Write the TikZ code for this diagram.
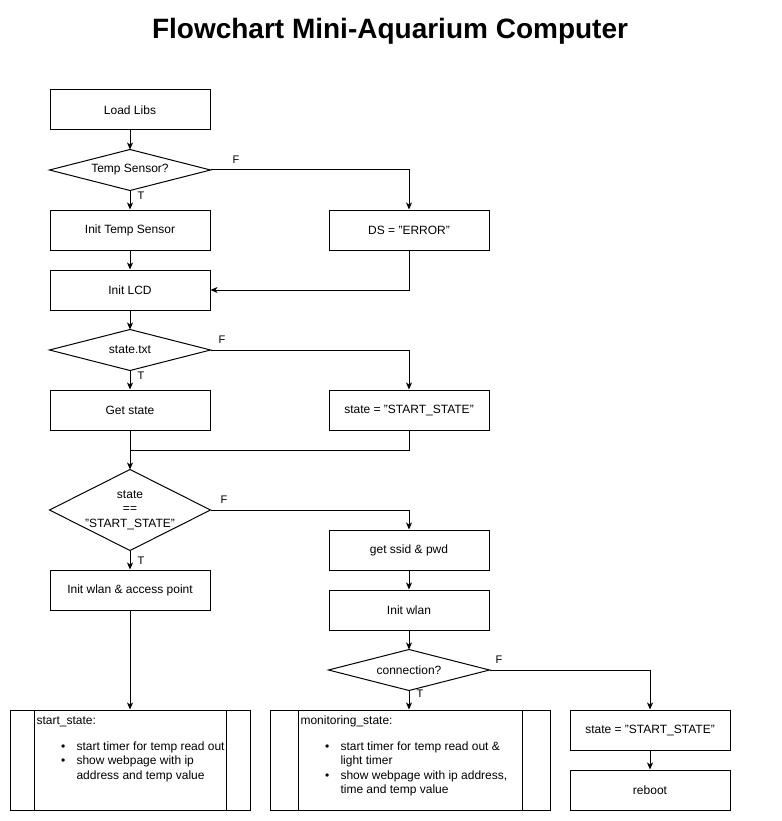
\documentclass[tikz,border=0pt]{standalone}
\usepackage{fontspec}
\setmainfont{Liberation Sans}
\usetikzlibrary{arrows.meta}
\newcommand{\fsn}{\fontsize{12}{14.5}\selectfont}
\newcommand{\fsl}{\fontsize{11}{13}\selectfont}
\begin{document}
\begin{tikzpicture}[x=1pt,y=-1pt,line width=1pt,
  box/.style={draw,minimum width=160pt,minimum height=40pt,inner sep=0pt,font=\fsn},
  dia/.style={minimum width=160pt,minimum height=40pt,inner sep=0pt,align=center,font=\fsn},
  lab/.style={font=\fsl,inner sep=0pt},
  txt/.style={font=\fsn,inner sep=0pt,anchor=base west},
  arr/.style={-{Stealth[length=7pt,width=6pt,inset=2pt]}}]
\useasboundingbox[fill=white] (0,0) rectangle (781,821);
\node[font=\fontsize{28}{33}\selectfont\bfseries] (title) at (390,31) {Flowchart Mini-Aquarium Computer};

\node[box] (load) at (130,110) {Load Libs};
\node[dia] (ts) at (130,170) {Temp Sensor?};
\draw (ts.west) -- (ts.north) -- (ts.east) -- (ts.south) -- cycle;
\node[box] (its) at (130,230) {Init Temp Sensor};
\node[box] (ds) at (409,230) {DS = "ERROR"};
\node[box] (lcd) at (130,290) {Init LCD};
\node[dia] (stx) at (130,350) {state.txt};
\draw (stx.west) -- (stx.north) -- (stx.east) -- (stx.south) -- cycle;
\node[box] (gs) at (130,410) {Get state};
\node[box] (ss1) at (409,410) {state = "START\_STATE"};
\node[dia,minimum height=80pt] (sse) at (130,510) {state\\==\\"START\_STATE"};
\draw (sse.west) -- (sse.north) -- (sse.east) -- (sse.south) -- cycle;
\node[box] (iw) at (130,590) {Init wlan \& access point};
\node[box] (gsp) at (409,550) {get ssid \& pwd};
\node[box] (iwl) at (409,610) {Init wlan};
\node[dia] (con) at (409,670) {connection?};
\draw (con.west) -- (con.north) -- (con.east) -- (con.south) -- cycle;
\node[draw,minimum width=240pt,minimum height=100pt,inner sep=0pt] (st) at (130,760) {};
\draw (34,710) -- (34,810) (226,710) -- (226,810);
\node[draw,minimum width=280pt,minimum height=100pt,inner sep=0pt] (mon) at (410,760) {};
\draw (298,710) -- (298,810) (522,710) -- (522,810);
\node[box] (ss2) at (650,730) {state = "START\_STATE"};
\node[box] (rb) at (650,790) {reboot};

% texts in process boxes
\node[txt] (sth) at (36,724) {start\_state:};
\node[txt] (stb1) at (60.5,750) {•};
\node[txt] (sti1) at (76,750) {start timer for temp read out};
\node[txt] (stb2) at (60.5,764) {•};
\node[txt] (sti2) at (76,764) {show webpage with ip};
\node[txt] (sti3) at (76,779) {address and temp value};
\node[txt] (mnh) at (300,724) {monitoring\_state:};
\node[txt] (mnb1) at (324.5,750) {•};
\node[txt] (mni1) at (340,750) {start timer for temp read out \&};
\node[txt] (mni2) at (340,764) {light timer};
\node[txt] (mnb2) at (324.5,779) {•};
\node[txt] (mni3) at (340,779) {show webpage with ip address,};
\node[txt] (mni4) at (340,793) {time and temp value};

% connectors
\draw[arr] (load) -- (ts);
\draw[arr] (ts.east) -| (ds.north);
\node[lab] (f1) at (236,160) {F};
\draw[arr] (ts) -- (its);
\node[lab] (t1) at (141,196) {T};
\draw[arr] (its) -- (lcd);
\draw[arr] (ds.south) |- (lcd.east);
\draw[arr] (lcd) -- (stx);
\draw[arr] (stx.east) -| (ss1.north);
\node[lab] (f2) at (222,340) {F};
\draw[arr] (stx) -- (gs);
\node[lab] (t2) at (141,376) {T};
\coordinate (m) at (130,450);
\draw (gs.south) -- (m);
\draw (ss1.south) |- (m);
\draw[arr] (m) -- (sse.north);
\draw[arr] (sse.east) -| (gsp.north);
\node[lab] (f3) at (224,500) {F};
\draw[arr] (sse) -- (iw);
\node[lab] (t3) at (141,561) {T};
\draw[arr] (iw.south) -- (iw.south |- st.north);
\draw[arr] (gsp) -- (iwl);
\draw[arr] (iwl) -- (con);
\draw[arr] (con.east) -| (ss2.north);
\node[lab] (f4) at (499,660) {F};
\draw[arr] (con.south) -- (con.south |- mon.north);
\node[lab] (t4) at (420,694) {T};
\draw[arr] (ss2) -- (rb);
\end{tikzpicture}
\end{document}
